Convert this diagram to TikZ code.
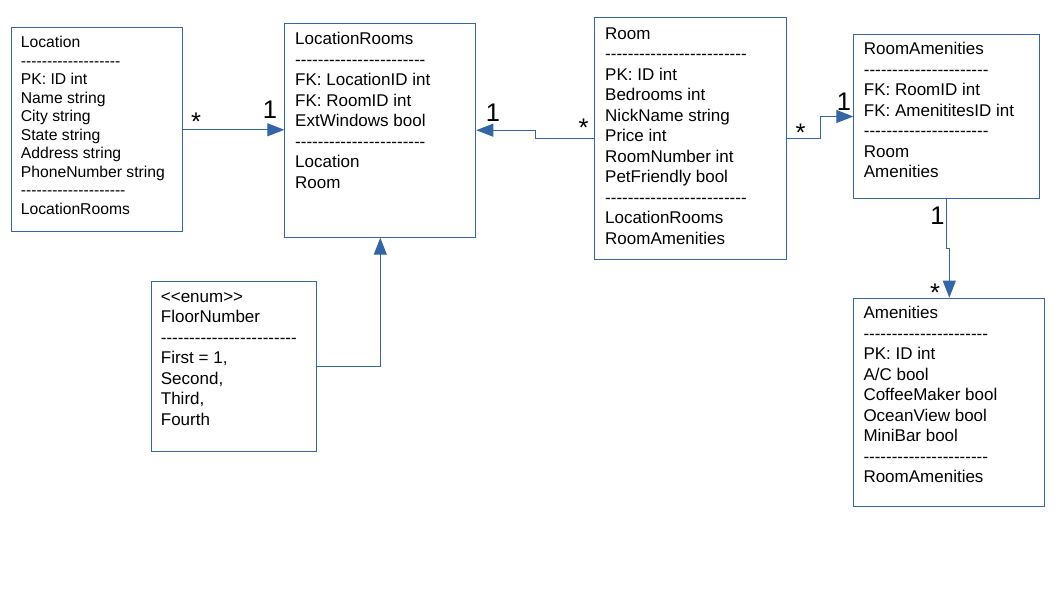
\documentclass[tikz,border=0pt]{standalone}
\usepackage{fontspec}
\setmainfont{Liberation Sans}
\usepackage{tikz}
\usetikzlibrary{arrows.meta}
\definecolor{umlblue}{HTML}{3465A4}
\newcommand\sepline[1]{\foreach \k in {1,...,#1}{-\kern0pt}}

\begin{document}
\begin{tikzpicture}[x=1pt, y=-1pt,
  umlbox/.style={draw=umlblue, line width=1pt, inner sep=0pt, anchor=north west},
  umltext/.style={anchor=base west, align=left, inner sep=0pt, font=\fontsize{17}{20.5}\selectfont},
  assoc/.style={draw=umlblue, line width=1pt, -{Triangle[length=17pt,width=13pt]}},
  mult/.style={inner sep=0pt, font=\fontsize{25.5}{30}\selectfont}]
\useasboundingbox (0,0) rectangle (1058,595);

% boxes
\node[umlbox, minimum width=171, minimum height=204] (location) at (10.7,27.3) {};
\node[umlbox, minimum width=191, minimum height=214] (locrooms) at (284.3,22.7) {};
\node[umlbox, minimum width=192, minimum height=242] (room) at (594.3,16.7) {};
\node[umlbox, minimum width=186, minimum height=164] (roomamen) at (853.3,34) {};
\node[umlbox, minimum width=165, minimum height=170] (floornum) at (150.7,280.7) {};
\node[umlbox, minimum width=191, minimum height=208] (amenities) at (853.3,297.7) {};

% texts (placed by the baseline of their last line)
\node[umltext, font=\fontsize{15.7}{18.5}\selectfont] (location-t) at (20.7,214) {Location\\ \sepline{19}\\ PK: ID int\\ Name string\\ City string\\ State string\\ Address string\\ PhoneNumber string\\ \sepline{20}\\ LocationRooms};
\node[umltext] (locrooms-t) at (295,188) {LocationRooms\\ \sepline{23}\\ FK: LocationID int\\ FK: RoomID int\\ ExtWindows bool\\ \sepline{23}\\ Location\\ Room};
\node[umltext] (room-t) at (605,244.3) {Room\\ \sepline{25}\\ PK: ID int\\ Bedrooms int\\ NickName string\\ Price int\\ RoomNumber int\\ PetFriendly bool\\ \sepline{25}\\ LocationRooms\\ RoomAmenities};
\node[umltext] (roomamen-t) at (863.7,177.5) {RoomAmenities\\ \sepline{22}\\ FK: RoomID int\\ FK: AmenititesID int\\ \sepline{22}\\ Room\\ Amenities};
\node[umltext] (floornum-t) at (160.7,425) {<\kern0pt<enum>\kern0pt>\\ FloorNumber\\ \sepline{24}\\ First = 1,\\ Second,\\ Third,\\ Fourth};
\node[umltext] (amenities-t) at (863.3,482.5) {Amenities\\ \sepline{22}\\ PK: ID int\\ A/C bool\\ CoffeeMaker bool\\ OceanView bool\\ MiniBar bool\\ \sepline{22}\\ RoomAmenities};

% connectors
\draw[assoc] (location.east) -- (location.east -| locrooms.west);
\draw[assoc] (room.west) -- ++(-58.6,0) |- (locrooms.east);
\draw[assoc] (room.east) -- ++(33.3,0) |- (roomamen.west);
\draw[assoc] (roomamen.south) -- ++(0,49.5) -| (amenities.north);
\draw[assoc] (floornum.east) -| (locrooms.south);

% multiplicities
\node[mult, anchor=north] (m-loc) at (196,112.7) {*};
\node[mult] (m-locrooms-l) at (270,109.5) {1};
\node[mult] (m-locrooms-r) at (493,112.5) {1};
\node[mult, anchor=north] (m-room-l) at (583.5,119) {*};
\node[mult, anchor=north] (m-room-r) at (800.5,123.3) {*};
\node[mult] (m-roomamen-l) at (844,101.7) {1};
\node[mult] (m-roomamen-b) at (937.5,216) {1};
\node[mult, anchor=north] (m-amenities) at (935,283.3) {*};
\end{tikzpicture}
\end{document}
